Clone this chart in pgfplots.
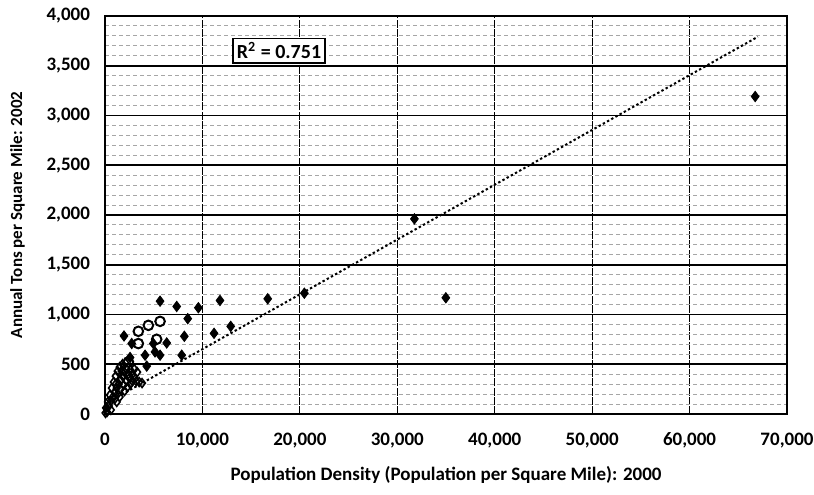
\documentclass[border=0pt]{standalone}
\usepackage{fontspec}
\setmainfont{Carlito}
\usepackage{pgfplots}
\pgfplotsset{compat=1.18}
\begin{document}
\begin{tikzpicture}
\begin{axis}[
  scale only axis,
  width=341pt, height=199pt,
  xmin=0, xmax=70000, ymin=0, ymax=4000,
  xtick={0,10000,...,70000},
  ytick={0,500,...,4000},
  minor y tick num=4,
  scaled ticks=false,
  /pgf/number format/.cd, 1000 sep={,}, assume math mode=true,
  /pgfplots/.cd,
  tick style={draw=none},
  grid=both,
  major grid style={black, line width=0.9pt},
  minor grid style={gray!70, line width=0.4pt, dash pattern=on 2pt off 1.5pt},
  x grid style={black, line width=0.6pt, dash pattern=on 4pt off 0.6pt},
  axis line style={black, line width=1pt},
  tick label style={font=\fontsize{9.5}{11}\selectfont\bfseries},
  xticklabel style={yshift=-6pt},
  yticklabel style={xshift=-4pt},
  xlabel={Population Density (Population per Square Mile): 2000},
  ylabel={Annual Tons per Square Mile: 2002},
  xlabel style={font=\fontsize{9.5}{11}\selectfont\bfseries, yshift=-2pt},
  ylabel style={font=\fontsize{8.5}{10}\selectfont\bfseries, yshift=4pt},
  clip=false,
]
% trend line
\addplot[black, line width=1pt, dash pattern=on 1.2pt off 1.2pt] coordinates {(0,100) (67000,3790)};
% solid points
\addplot[only marks, mark=diamond*, mark size=2.6pt, black] coordinates {
(66735,3190) (31755,1960) (34980,1167) (20460,1213) (16700,1157) (11800,1140)
(12900,880) (11190,810) (5650,1133) (7360,1080) (9580,1067) (8490,957)
(8140,780) (6330,713) (1950,783) (2740,707) (4960,707) (4110,590) (5650,590)
(7870,590) (2570,567) (4280,480) (5130,623)
};
% points that look hollow in the scan
\addplot[only marks, mark=o, mark size=2.4pt, black, line width=1pt] coordinates {
(4450,890) (3420,830) (5300,750) (3420,707) (2400,523) (5650,930)
};
% dense cluster near the origin
\addplot[only marks, mark=diamond, mark size=2.2pt, black, line width=0.8pt] coordinates {
(50,10) (200,20) (100,60) (300,120) (500,190) (700,260) (900,320) (1100,380)
(1300,430) (1500,470) (1800,500) (2100,510) (400,80) (600,130) (800,170)
(1000,220) (1200,260) (1400,300) (1600,340) (1800,380) (2000,420) (2200,450)
(2600,440) (2800,400) (3000,370) (1000,150) (1300,200) (1600,250) (1900,290)
(2200,330) (2500,360) (2800,330) (3200,330) (3500,320) (3800,310) (2000,230)
(2300,270) (2600,300) (1200,120) (1500,170) (2400,400) (3000,450) (3300,420)
(1700,430) (1100,300) (600,40)
};
\node[draw=black, line width=0.8pt, fill=white, inner sep=2pt,
  font=\fontsize{10}{11}\selectfont\bfseries] at (axis cs:17860,3650) {R\textsuperscript{2} = 0.751};
\coordinate (bl) at (rel axis cs:-0.154,-0.2035);
\coordinate (tr) at (rel axis cs:1.0396,1.040);
\end{axis}
\pgfresetboundingbox
\path[use as bounding box] (bl) rectangle (tr);
\end{tikzpicture}
\end{document}
